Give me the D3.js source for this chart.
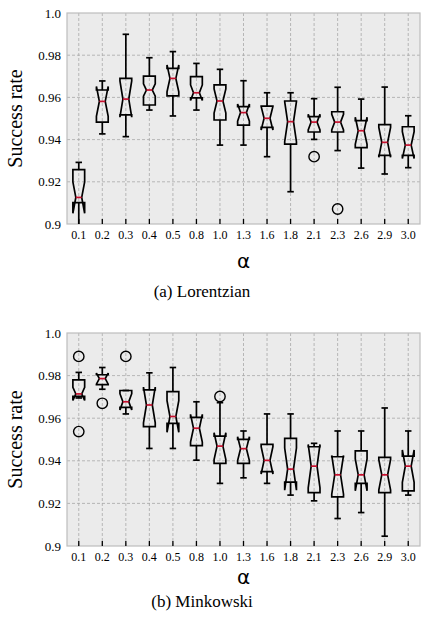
<!DOCTYPE html>
<html>
<head>
<meta charset="utf-8">
<script src="https://cdn.jsdelivr.net/npm/d3@7"></script>
<style>
  body { margin: 0; background: #fff; }
  svg { display: block; }
</style>
</head>
<body>
<svg id="chart" width="421" height="620"></svg>
<script>
const categories = ['0.1', '0.2', '0.3', '0.4', '0.5', '0.8', '1.0', '1.3', '1.6', '1.8', '2.1', '2.3', '2.6', '2.9', '3.0'];
const yTicks = [0.9, 0.92, 0.94, 0.96, 0.98, 1.0];
const yTickLabels = ['0.9', '0.92', '0.94', '0.96', '0.98', '1.0'];

// (a) Lorentzian
const lorWhiskHi = [0.9292, 0.9678, 0.9899, 0.9788, 0.9817, 0.9761, 0.9733, 0.9679, 0.9622, 0.9622, 0.9594, 0.9648, 0.9592, 0.9649, 0.9513];
const lorQ3      = [0.9258, 0.9635, 0.9690, 0.9701, 0.9738, 0.9698, 0.9659, 0.9556, 0.9559, 0.9583, 0.9509, 0.9532, 0.9490, 0.9471, 0.9461];
const lorMed     = [0.9126, 0.9581, 0.9592, 0.9635, 0.9690, 0.9622, 0.9583, 0.9528, 0.9501, 0.9485, 0.9483, 0.9483, 0.9442, 0.9387, 0.9374];
const lorQ1      = [0.9101, 0.9483, 0.9517, 0.9564, 0.9607, 0.9598, 0.9493, 0.9469, 0.9458, 0.9379, 0.9436, 0.9436, 0.9362, 0.9325, 0.9325];
const lorWhiskLo = [0.8970, 0.9427, 0.9414, 0.9540, 0.9512, 0.9540, 0.9374, 0.9374, 0.9319, 0.9153, 0.9401, 0.9348, 0.9265, 0.9237, 0.9267];
const lorNotchLo = [0.9051, 0.9510, 0.9506, 0.9606, 0.9626, 0.9585, 0.9526, 0.9487, 0.9445, 0.9390, 0.9446, 0.9446, 0.9378, 0.9316, 0.9310];
const lorNotchHi = [0.9200, 0.9652, 0.9678, 0.9664, 0.9754, 0.9659, 0.9640, 0.9569, 0.9557, 0.9580, 0.9520, 0.9520, 0.9506, 0.9458, 0.9438];
const lorOutliers = [[], [], [], [], [], [], [], [], [], [], [0.9319], [0.9071], [], [], []];

// (b) Minkowski
const minWhiskHi = [0.9815, 0.9838, 0.9730, 0.9813, 0.9838, 0.9677, 0.9673, 0.9540, 0.9620, 0.9620, 0.9482, 0.9540, 0.9540, 0.9648, 0.9540];
const minQ3      = [0.9780, 0.9804, 0.9730, 0.9733, 0.9725, 0.9604, 0.9516, 0.9501, 0.9477, 0.9505, 0.9466, 0.9419, 0.9447, 0.9416, 0.9422];
const minMed     = [0.9714, 0.9786, 0.9677, 0.9662, 0.9608, 0.9553, 0.9469, 0.9457, 0.9402, 0.9361, 0.9375, 0.9334, 0.9334, 0.9334, 0.9375];
const minQ1      = [0.9702, 0.9758, 0.9651, 0.9560, 0.9576, 0.9471, 0.9388, 0.9388, 0.9349, 0.9300, 0.9251, 0.9231, 0.9294, 0.9251, 0.9259];
const minWhiskLo = [0.9695, 0.9736, 0.9620, 0.9458, 0.9458, 0.9403, 0.9294, 0.9320, 0.9294, 0.9239, 0.9212, 0.9129, 0.9157, 0.9046, 0.9239];
const minNotchLo = [0.9683, 0.9760, 0.9639, 0.9578, 0.9534, 0.9488, 0.9406, 0.9401, 0.9338, 0.9262, 0.9273, 0.9243, 0.9259, 0.9263, 0.9299];
const minNotchHi = [0.9745, 0.9812, 0.9715, 0.9746, 0.9682, 0.9618, 0.9532, 0.9513, 0.9466, 0.9460, 0.9477, 0.9425, 0.9409, 0.9405, 0.9451];
const minOutliers = [[0.989, 0.9537], [0.967], [0.989], [], [], [], [0.9702], [], [], [], [], [], [], [], []];

const svg = d3.select('#chart');
const serif = '"Liberation Serif", "Times New Roman", serif';
const lw = 1.7;

function drawPanel(opts) {
  const { top, bottom, caption, alphaY, captionY, id, whiskHi, q3, med, q1, whiskLo, notchLo, notchHi, outliers } = opts;
  const left = 67, right = 420;

  const x = d3.scaleBand().domain(categories).range([left, right]).padding(0);
  const y = d3.scaleLinear().domain([0.9, 1.0]).range([bottom, top]);
  const bw = x.bandwidth();
  const cx = c => x(c) + bw / 2;
  const boxW = bw * 0.5;
  const capW = boxW * 0.55;

  const g = svg.append('g');

  svg.append('defs').append('clipPath').attr('id', id)
    .append('rect').attr('x', left).attr('y', top).attr('width', right - left).attr('height', bottom - top);

  g.append('rect')
    .attr('x', left).attr('y', top)
    .attr('width', right - left).attr('height', bottom - top)
    .attr('fill', '#ebebeb');

  // grid
  g.selectAll('.hgrid').data(yTicks.slice(1, -1)).enter().append('line')
    .attr('x1', left).attr('x2', right)
    .attr('y1', d => y(d)).attr('y2', d => y(d))
    .attr('stroke', '#a8a8a8').attr('stroke-width', 0.8).attr('stroke-dasharray', '3,2');
  g.selectAll('.vgrid').data(categories).enter().append('line')
    .attr('x1', d => cx(d)).attr('x2', d => cx(d))
    .attr('y1', top).attr('y2', bottom)
    .attr('stroke', '#a8a8a8').attr('stroke-width', 0.8).attr('stroke-dasharray', '3,2');

  g.append('rect')
    .attr('x', left).attr('y', top)
    .attr('width', right - left).attr('height', bottom - top)
    .attr('fill', 'none').attr('stroke', '#bdbdbd').attr('stroke-width', 1.2);

  // x ticks (inward)
  g.selectAll('.xtick').data(categories).enter().append('line')
    .attr('x1', d => cx(d)).attr('x2', d => cx(d))
    .attr('y1', bottom).attr('y2', bottom - 5)
    .attr('stroke', '#000').attr('stroke-width', 1.3);

  g.selectAll('.xlab').data(categories).enter().append('text')
    .attr('x', d => cx(d)).attr('y', bottom + 15)
    .attr('text-anchor', 'middle')
    .style('font-family', serif).style('font-size', '12px')
    .text(d => d);

  g.selectAll('.ylab').data(yTicks).enter().append('text')
    .attr('x', left - 6).attr('y', d => y(d) + 4.5)
    .attr('text-anchor', 'end')
    .style('font-family', serif).style('font-size', '13px')
    .text((d, i) => yTickLabels[i]);

  g.append('text')
    .attr('transform', `translate(${22},${(top + bottom) / 2}) rotate(-90)`)
    .attr('text-anchor', 'middle')
    .style('font-family', serif).style('font-size', '20px')
    .text('Success rate');

  g.append('text')
    .attr('x', (left + right) / 2).attr('y', alphaY)
    .attr('text-anchor', 'middle')
    .style('font-family', '"DejaVu Sans", sans-serif').style('font-size', '20px')
    .text('α');

  g.append('text')
    .attr('x', 202).attr('y', captionY)
    .attr('text-anchor', 'middle')
    .style('font-family', serif).style('font-size', '17px')
    .text(caption);

  // boxes
  const boxes = categories.map((c, i) => ({
    c, hi: whiskHi[i], q3: q3[i], med: med[i], q1: q1[i], lo: whiskLo[i],
    nlo: notchLo[i], nhi: notchHi[i], out: outliers[i]
  }));

  const marks = g.append('g').attr('clip-path', `url(#${id})`);
  const bx = marks.selectAll('.box').data(boxes).enter().append('g');

  // whiskers
  bx.append('line')
    .attr('x1', d => cx(d.c)).attr('x2', d => cx(d.c))
    .attr('y1', d => y(d.q3)).attr('y2', d => y(d.hi))
    .attr('stroke', '#000').attr('stroke-width', lw);
  bx.append('line')
    .attr('x1', d => cx(d.c)).attr('x2', d => cx(d.c))
    .attr('y1', d => y(d.q1)).attr('y2', d => y(d.lo))
    .attr('stroke', '#000').attr('stroke-width', lw);
  // caps
  bx.append('line')
    .attr('x1', d => cx(d.c) - capW / 2).attr('x2', d => cx(d.c) + capW / 2)
    .attr('y1', d => y(d.hi)).attr('y2', d => y(d.hi))
    .attr('stroke', '#000').attr('stroke-width', lw);
  bx.append('line')
    .attr('x1', d => cx(d.c) - capW / 2).attr('x2', d => cx(d.c) + capW / 2)
    .attr('y1', d => y(d.lo)).attr('y2', d => y(d.lo))
    .attr('stroke', '#000').attr('stroke-width', lw);

  // notched box path
  bx.append('path')
    .attr('d', d => {
      const xl = cx(d.c) - boxW / 2, xr = cx(d.c) + boxW / 2;
      const il = cx(d.c) - boxW / 4, ir = cx(d.c) + boxW / 4;
      const p = d3.path();
      p.moveTo(xl, y(d.q1));
      p.lineTo(xr, y(d.q1));
      p.lineTo(xr, y(d.nlo));
      p.lineTo(ir, y(d.med));
      p.lineTo(xr, y(d.nhi));
      p.lineTo(xr, y(d.q3));
      p.lineTo(xl, y(d.q3));
      p.lineTo(xl, y(d.nhi));
      p.lineTo(il, y(d.med));
      p.lineTo(xl, y(d.nlo));
      p.closePath();
      return p.toString();
    })
    .attr('fill', 'none').attr('stroke', '#000').attr('stroke-width', lw)
    .attr('stroke-linejoin', 'miter');

  // median
  bx.append('line')
    .attr('x1', d => cx(d.c) - boxW / 4).attr('x2', d => cx(d.c) + boxW / 4)
    .attr('y1', d => y(d.med)).attr('y2', d => y(d.med))
    .attr('stroke', '#c8102e').attr('stroke-width', lw);

  // outliers
  bx.selectAll('circle').data(d => d.out.map(v => ({ c: d.c, v }))).enter().append('circle')
    .attr('cx', d => cx(d.c)).attr('cy', d => y(d.v))
    .attr('r', 5.2)
    .attr('fill', 'none').attr('stroke', '#000').attr('stroke-width', 1.4);
}

drawPanel({
  id: 'clipA', top: 13, bottom: 224, caption: '(a) Lorentzian', alphaY: 268, captionY: 297,
  whiskHi: lorWhiskHi, q3: lorQ3, med: lorMed, q1: lorQ1, whiskLo: lorWhiskLo,
  notchLo: lorNotchLo, notchHi: lorNotchHi, outliers: lorOutliers
});

drawPanel({
  id: 'clipB', top: 333, bottom: 546, caption: '(b) Minkowski', alphaY: 584, captionY: 607,
  whiskHi: minWhiskHi, q3: minQ3, med: minMed, q1: minQ1, whiskLo: minWhiskLo,
  notchLo: minNotchLo, notchHi: minNotchHi, outliers: minOutliers
});
</script>
</body>
</html>
